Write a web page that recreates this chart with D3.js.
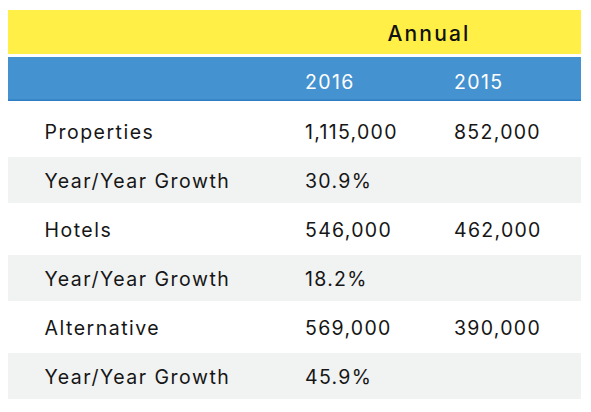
<!DOCTYPE html>
<html>
<head>
<meta charset="utf-8">
<script src="https://cdn.jsdelivr.net/npm/d3@7"></script>
<style>
  html, body { margin: 0; padding: 0; background: #ffffff; }
  svg { display: block; }
  text { font-family: "Inter", "DejaVu Sans", sans-serif; }
</style>
</head>
<body>
<svg id="chart" width="591" height="412"></svg>
<script>
// ---- data ----
const groupTitle = "Annual";
const columns = ["2016", "2015"];
const rowLabels = ["Properties", "Year/Year Growth", "Hotels", "Year/Year Growth", "Alternative", "Year/Year Growth"];
const values2016 = ["1,115,000", "30.9%", "546,000", "18.2%", "569,000", "45.9%"];
const values2015 = ["852,000", "", "462,000", "", "390,000", ""];

const svg = d3.select("#chart");
const left = 8, right = 581;

const xCol = d3.scaleOrdinal()
  .domain(["label"].concat(columns))
  .range([44.5, 305, 454]);

const y = d3.scaleBand()
  .domain(d3.range(rowLabels.length))
  .range([106.5, 400.5])
  .paddingInner(0.06)
  .paddingOuter(0.03);

// title band (yellow)
svg.append("rect")
  .attr("x", left).attr("y", 10)
  .attr("width", right - left).attr("height", 44)
  .attr("fill", "#FFEF46");
svg.append("text")
  .attr("x", 429).attr("y", 41)
  .attr("text-anchor", "middle")
  .attr("font-size", 21)
  .attr("font-weight", 500)
  .attr("letter-spacing", 2.2)
  .attr("fill", "#111")
  .text(groupTitle);

// header band (blue)
svg.append("rect")
  .attr("x", left).attr("y", 57)
  .attr("width", right - left).attr("height", 44)
  .attr("fill", "#4592D0");
svg.append("rect")
  .attr("x", left).attr("y", 99.5)
  .attr("width", right - left).attr("height", 1.5)
  .attr("fill", "#2F7EC4");
svg.selectAll("text.hdr")
  .data(columns)
  .join("text")
  .attr("class", "hdr")
  .attr("x", d => xCol(d))
  .attr("y", 89)
  .attr("font-size", 19.5)
  .attr("letter-spacing", 1.4)
  .attr("fill", "#ffffff")
  .text(d => d);

// rows
const rows = svg.selectAll("g.row")
  .data(rowLabels.map((lab, i) => ({ i, lab, v16: values2016[i], v15: values2015[i] })))
  .join("g")
  .attr("class", "row")
  .attr("transform", d => `translate(0,${y(d.i)})`);

rows.append("rect")
  .attr("x", left)
  .attr("width", right - left)
  .attr("height", y.bandwidth())
  .attr("fill", d => d.i % 2 === 1 ? "#F1F2F2" : "#ffffff");

const baseY = y.bandwidth() / 2 + 8.3;
rows.append("text")
  .attr("x", xCol("label"))
  .attr("y", baseY)
  .attr("font-size", 19.5)
  .attr("letter-spacing", 1.5)
  .attr("fill", "#161616")
  .text(d => d.lab);
rows.append("text")
  .attr("x", xCol("2016"))
  .attr("y", baseY)
  .attr("font-size", 19.5)
  .attr("letter-spacing", 1.3)
  .attr("fill", "#161616")
  .text(d => d.v16);
rows.append("text")
  .attr("x", xCol("2015"))
  .attr("y", baseY)
  .attr("font-size", 19.5)
  .attr("letter-spacing", 1.3)
  .attr("fill", "#161616")
  .text(d => d.v15);
</script>
</body>
</html>
